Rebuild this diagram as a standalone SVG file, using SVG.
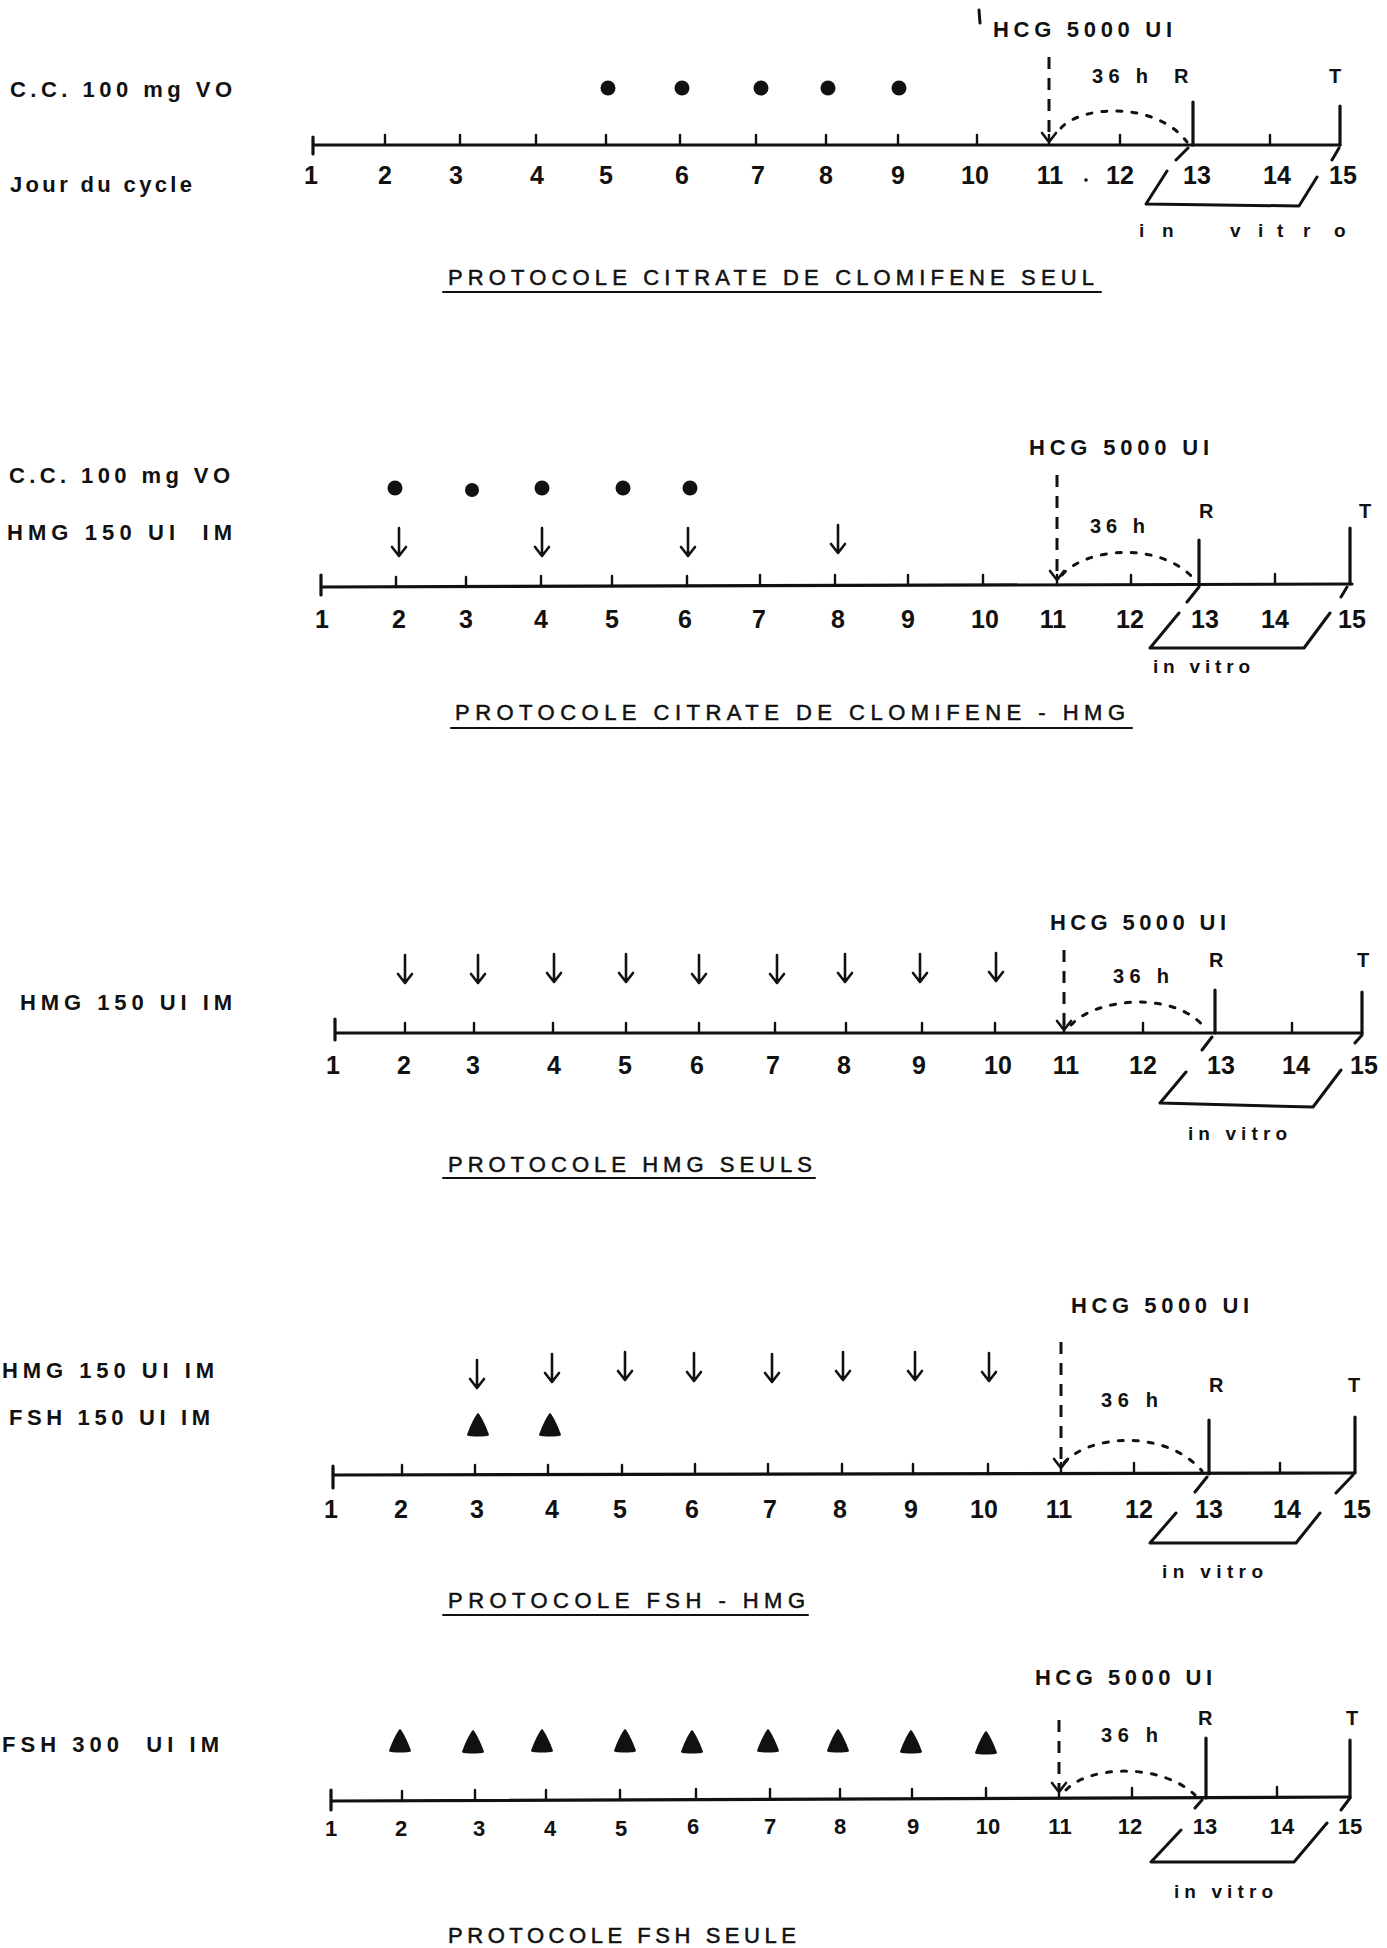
<svg xmlns="http://www.w3.org/2000/svg" xmlns:xlink="http://www.w3.org/1999/xlink" width="1387" height="1948" viewBox="0 0 1387 1948">
<style>
text{font-family:"Liberation Sans",Arial,sans-serif;fill:#111}
.lbl{font-size:22px;font-weight:bold}
.ttl{font-size:22px;font-weight:normal;stroke:#111;stroke-width:0.5}
.hcg{font-size:22px;font-weight:bold}
.sm{font-size:20px;font-weight:bold}
.iv{font-size:19px;font-weight:bold}
.num{font-size:25px;font-weight:bold;text-anchor:middle}
.num5{font-size:22px;font-weight:bold;text-anchor:middle}
.ln{stroke:#111;fill:none;stroke-linecap:round;stroke-linejoin:round}
.axis{stroke-width:3.2}
.tick{stroke-width:2.4}
.bar{stroke-width:3.2}
.ul{stroke-width:2}
.vd{stroke-width:3;stroke-dasharray:12 9;stroke-linecap:butt}
.arc{stroke-width:3;stroke-dasharray:5 10}
.iv-ln{stroke-width:3}
</style>
<defs>
<path id="darr" class="ln" style="stroke-width:2.6" d="M0,-14 V14 M-7,5 L0,14 L7,5"/>
<path id="hd" class="ln" style="stroke-width:2.6" d="M-7,-9 L0,0 L7,-9"/>
<path id="tri" d="M0,-12 C3,-10 10,6 11,10 C11,12 -11,12 -11,10 C-10,6 -3,-10 0,-12 Z" fill="#111"/>
</defs>
<rect width="1387" height="1948" fill="#fff"/>

<!-- Protocol 1 -->
<g id="protocol-cc">
  <text class="lbl" x="10" y="97" textLength="222" lengthAdjust="spacing">C.C. 100 mg VO</text>
  <text class="lbl" x="10" y="192" textLength="182" lengthAdjust="spacing">Jour du cycle</text>
  <g id="p1-axis" class="ln">
    <path class="axis" d="M313,145 H1340 M313,137 V154"/>
    <path class="tick" d="M385,135V145 M460,135V145 M536,135V145 M606,135V145 M680,135V145 M756,135V145 M826,135V145 M898,135V145 M977,135V145 M1049,135V145 M1120,135V145 M1270,135V145"/>
    <path class="bar" d="M1193,102V145 M1340,106V145"/>
  </g>
  <g id="p1-days">
    <text class="num" x="311" y="184">1</text><text class="num" x="385" y="184">2</text><text class="num" x="456" y="184">3</text><text class="num" x="537" y="184">4</text><text class="num" x="606" y="184">5</text><text class="num" x="682" y="184">6</text><text class="num" x="758" y="184">7</text><text class="num" x="826" y="184">8</text><text class="num" x="898" y="184">9</text><text class="num" x="975" y="184">10</text><text class="num" x="1050" y="184">11</text><text class="num" x="1120" y="184">12</text><text class="num" x="1197" y="184">13</text><text class="num" x="1277" y="184">14</text><text class="num" x="1343" y="184">15</text>
    <circle cx="1086" cy="180" r="1.8" fill="#111"/>
  </g>
  <g id="p1-doses" fill="#111">
    <circle cx="608" cy="88" r="7.5"/><circle cx="682" cy="88" r="7.5"/><circle cx="761" cy="88" r="7.5"/><circle cx="828" cy="88" r="7.5"/><circle cx="899" cy="88" r="7.5"/>
  </g>
  <g id="p1-hcg">
    <path class="ln" style="stroke-width:3" d="M979,10 L980,23"/>
    <text class="hcg" x="993" y="37" textLength="179" lengthAdjust="spacing">HCG 5000 UI</text>
    <text class="sm" x="1092" y="83" textLength="56" lengthAdjust="spacing">36 h</text>
    <text class="sm" x="1174" y="83">R</text>
    <text class="sm" x="1329" y="83">T</text>
  </g>
  <g id="p1-invitro">
    <path class="ln iv-ln" d="M1188,148 L1176,160 M1167,171 L1146,204 L1299,206 L1317,177 M1332,160 L1339,148"/>
    <text class="iv" x="1139 1162 1230 1258 1277 1303 1334" y="237">invitro</text>
  </g>
  <text class="ttl" x="448" y="285" textLength="646" lengthAdjust="spacing">PROTOCOLE CITRATE DE CLOMIFENE SEUL</text>
  <path class="ln ul" d="M443,292 H1101"/>
</g>

<!-- Protocol 2 -->
<g id="protocol-cc-hmg">
  <text class="lbl" x="9" y="483" textLength="221" lengthAdjust="spacing">C.C. 100 mg VO</text>
  <text class="lbl" x="7" y="540" textLength="225" lengthAdjust="spacing" xml:space="preserve">HMG 150 UI  IM</text>
  <g id="p2-axis" class="ln">
    <path class="axis" d="M321,587 L1352,584 M321,575 V595"/>
    <path class="tick" d="M396,577V587 M466,577V587 M541,576V586 M612,576V586 M687,576V586 M760,575V585 M835,575V585 M908,575V585 M983,575V585 M1057,575V585 M1131,575V585 M1275,574V584"/>
    <path class="bar" d="M1199,540V585 M1350,528V584"/>
  </g>
  <g id="p2-days">
    <text class="num" x="322" y="628">1</text><text class="num" x="399" y="628">2</text><text class="num" x="466" y="628">3</text><text class="num" x="541" y="628">4</text><text class="num" x="612" y="628">5</text><text class="num" x="685" y="628">6</text><text class="num" x="759" y="628">7</text><text class="num" x="838" y="628">8</text><text class="num" x="908" y="628">9</text><text class="num" x="985" y="628">10</text><text class="num" x="1053" y="628">11</text><text class="num" x="1130" y="628">12</text><text class="num" x="1205" y="628">13</text><text class="num" x="1275" y="628">14</text><text class="num" x="1352" y="628">15</text>
  </g>
  <g id="p2-doses" fill="#111">
    <circle cx="395" cy="488" r="7.5"/><circle cx="472" cy="490" r="7"/><circle cx="542" cy="488" r="7.5"/><circle cx="623" cy="488" r="7.5"/><circle cx="690" cy="488" r="7.5"/>
    <use xlink:href="#darr" x="399" y="542"/><use xlink:href="#darr" x="542" y="542"/><use xlink:href="#darr" x="688" y="542"/><use xlink:href="#darr" x="838" y="539"/>
  </g>
  <g id="p2-hcg">
    <text class="hcg" x="1029" y="455" textLength="180" lengthAdjust="spacing">HCG 5000 UI</text>
    <text class="sm" x="1090" y="533" textLength="55" lengthAdjust="spacing">36 h</text>
    <text class="sm" x="1199" y="518">R</text>
    <text class="sm" x="1359" y="518">T</text>
  </g>
  <g id="p2-invitro">
    <path class="ln iv-ln" d="M1199,587 L1187,602 M1179,613 L1150,648 L1304,648 L1330,613 M1341,597 L1347,587"/>
    <text class="iv" x="1153" y="673" textLength="97" lengthAdjust="spacing">in vitro</text>
  </g>
  <text class="ttl" x="455" y="720" textLength="670" lengthAdjust="spacing">PROTOCOLE CITRATE DE CLOMIFENE - HMG</text>
  <path class="ln ul" d="M451,728 H1132"/>
</g>

<!-- Protocol 3 -->
<g id="protocol-hmg">
  <text class="lbl" x="20" y="1010" textLength="212" lengthAdjust="spacing">HMG 150 UI IM</text>
  <g id="p3-axis" class="ln">
    <path class="axis" d="M335,1033 H1362 M335,1019 V1040"/>
    <path class="tick" d="M405,1023V1033 M474,1023V1033 M553,1023V1033 M626,1023V1033 M699,1023V1033 M775,1023V1033 M846,1023V1033 M922,1023V1033 M995,1023V1033 M1064,1023V1033 M1143,1023V1033 M1292,1023V1033"/>
    <path class="bar" d="M1215,990V1033 M1362,992V1033"/>
  </g>
  <g id="p3-days">
    <text class="num" x="333" y="1074">1</text><text class="num" x="404" y="1074">2</text><text class="num" x="473" y="1074">3</text><text class="num" x="554" y="1074">4</text><text class="num" x="625" y="1074">5</text><text class="num" x="697" y="1074">6</text><text class="num" x="773" y="1074">7</text><text class="num" x="844" y="1074">8</text><text class="num" x="919" y="1074">9</text><text class="num" x="998" y="1074">10</text><text class="num" x="1066" y="1074">11</text><text class="num" x="1143" y="1074">12</text><text class="num" x="1221" y="1074">13</text><text class="num" x="1296" y="1074">14</text><text class="num" x="1364" y="1074">15</text>
  </g>
  <g id="p3-doses">
    <use xlink:href="#darr" x="405" y="969"/><use xlink:href="#darr" x="478" y="969"/><use xlink:href="#darr" x="554" y="968"/><use xlink:href="#darr" x="626" y="968"/><use xlink:href="#darr" x="699" y="969"/><use xlink:href="#darr" x="777" y="969"/><use xlink:href="#darr" x="845" y="968"/><use xlink:href="#darr" x="920" y="968"/><use xlink:href="#darr" x="996" y="967"/>
  </g>
  <g id="p3-hcg">
    <text class="hcg" x="1050" y="930" textLength="176" lengthAdjust="spacing">HCG 5000 UI</text>
    <text class="sm" x="1113" y="983" textLength="56" lengthAdjust="spacing">36 h</text>
    <text class="sm" x="1209" y="967">R</text>
    <text class="sm" x="1357" y="967">T</text>
  </g>
  <g id="p3-invitro">
    <path class="ln iv-ln" d="M1212,1037 L1202,1050 M1186,1072 L1160,1103 L1313,1107 L1341,1070 M1355,1043 L1362,1035"/>
    <text class="iv" x="1188" y="1140" textLength="99" lengthAdjust="spacing">in vitro</text>
  </g>
  <text class="ttl" x="448" y="1172" textLength="364" lengthAdjust="spacing">PROTOCOLE HMG SEULS</text>
  <path class="ln ul" d="M443,1178 H815"/>
</g>

<!-- Protocol 4 -->
<g id="protocol-fsh-hmg">
  <text class="lbl" x="2" y="1378" textLength="212" lengthAdjust="spacing">HMG 150 UI IM</text>
  <text class="lbl" x="9" y="1425" textLength="201" lengthAdjust="spacing">FSH 150 UI IM</text>
  <g id="p4-axis" class="ln">
    <path class="axis" d="M333,1475 L1354,1473 M333,1466 V1488"/>
    <path class="tick" d="M402,1465V1475 M475,1465V1475 M548,1465V1475 M622,1465V1475 M695,1464V1474 M768,1464V1474 M842,1464V1474 M913,1464V1474 M988,1464V1474 M1061,1463V1473 M1134,1463V1473 M1280,1463V1473"/>
    <path class="bar" d="M1209,1420V1474 M1355,1417V1473"/>
  </g>
  <g id="p4-days">
    <text class="num" x="331" y="1518">1</text><text class="num" x="401" y="1518">2</text><text class="num" x="477" y="1518">3</text><text class="num" x="552" y="1518">4</text><text class="num" x="620" y="1518">5</text><text class="num" x="692" y="1518">6</text><text class="num" x="770" y="1518">7</text><text class="num" x="840" y="1518">8</text><text class="num" x="911" y="1518">9</text><text class="num" x="984" y="1518">10</text><text class="num" x="1059" y="1518">11</text><text class="num" x="1139" y="1518">12</text><text class="num" x="1209" y="1518">13</text><text class="num" x="1287" y="1518">14</text><text class="num" x="1357" y="1518">15</text>
  </g>
  <g id="p4-doses">
    <use xlink:href="#darr" x="477" y="1374"/><use xlink:href="#darr" x="552" y="1368"/><use xlink:href="#darr" x="625" y="1366"/><use xlink:href="#darr" x="694" y="1367"/><use xlink:href="#darr" x="772" y="1368"/><use xlink:href="#darr" x="843" y="1366"/><use xlink:href="#darr" x="915" y="1366"/><use xlink:href="#darr" x="989" y="1367"/>
    <use xlink:href="#tri" x="478" y="1425"/><use xlink:href="#tri" x="550" y="1425"/>
  </g>
  <g id="p4-hcg">
    <text class="hcg" x="1071" y="1313" textLength="178" lengthAdjust="spacing">HCG 5000 UI</text>
    <text class="sm" x="1101" y="1407" textLength="57" lengthAdjust="spacing">36 h</text>
    <text class="sm" x="1209" y="1392">R</text>
    <text class="sm" x="1348" y="1392">T</text>
  </g>
  <g id="p4-invitro">
    <path class="ln iv-ln" d="M1207,1477 L1195,1492 M1176,1513 L1150,1543 L1296,1543 L1320,1513 M1336,1493 L1353,1475"/>
    <text class="iv" x="1162" y="1578" textLength="101" lengthAdjust="spacing">in vitro</text>
  </g>
  <text class="ttl" x="448" y="1608" textLength="357" lengthAdjust="spacing">PROTOCOLE FSH - HMG</text>
  <path class="ln ul" d="M443,1615 H808"/>
</g>

<!-- Protocol 5 -->
<g id="protocol-fsh">
  <text class="lbl" x="2" y="1752" textLength="217" lengthAdjust="spacing" xml:space="preserve">FSH 300  UI IM</text>
  <g id="p5-axis" class="ln">
    <path class="axis" d="M331,1801 L1350,1797 M331,1790 V1810"/>
    <path class="tick" d="M402,1791V1801 M475,1790V1800 M546,1790V1800 M620,1790V1800 M696,1789V1799 M770,1789V1799 M840,1789V1799 M912,1789V1799 M986,1788V1798 M1059,1788V1798 M1132,1788V1798 M1277,1787V1797"/>
    <path class="bar" d="M1206,1738V1798 M1350,1740V1797"/>
  </g>
  <g id="p5-days">
    <text class="num5" x="331" y="1836">1</text><text class="num5" x="401" y="1836">2</text><text class="num5" x="479" y="1836">3</text><text class="num5" x="550" y="1836">4</text><text class="num5" x="621" y="1836">5</text><text class="num5" x="693" y="1834">6</text><text class="num5" x="770" y="1834">7</text><text class="num5" x="840" y="1834">8</text><text class="num5" x="913" y="1834">9</text><text class="num5" x="988" y="1834">10</text><text class="num5" x="1060" y="1834">11</text><text class="num5" x="1130" y="1834">12</text><text class="num5" x="1205" y="1834">13</text><text class="num5" x="1282" y="1834">14</text><text class="num5" x="1350" y="1834">15</text>
  </g>
  <g id="p5-doses">
    <use xlink:href="#tri" x="400" y="1741"/><use xlink:href="#tri" x="473" y="1742"/><use xlink:href="#tri" x="542" y="1741"/><use xlink:href="#tri" x="625" y="1741"/><use xlink:href="#tri" x="692" y="1742"/><use xlink:href="#tri" x="768" y="1741"/><use xlink:href="#tri" x="838" y="1741"/><use xlink:href="#tri" x="911" y="1742"/><use xlink:href="#tri" x="986" y="1743"/>
  </g>
  <g id="p5-hcg">
    <text class="hcg" x="1035" y="1685" textLength="177" lengthAdjust="spacing">HCG 5000 UI</text>
    <text class="sm" x="1101" y="1742" textLength="57" lengthAdjust="spacing">36 h</text>
    <text class="sm" x="1198" y="1725">R</text>
    <text class="sm" x="1346" y="1725">T</text>
  </g>
  <g id="p5-invitro">
    <path class="ln iv-ln" d="M1202,1800 L1195,1808 M1181,1830 L1151,1862 L1294,1862 L1327,1823 M1341,1810 L1350,1798"/>
    <text class="iv" x="1174" y="1898" textLength="99" lengthAdjust="spacing">in vitro</text>
  </g>
  <text class="ttl" x="448" y="1943" textLength="348" lengthAdjust="spacing">PROTOCOLE FSH SEULE</text>
</g>

<!-- Connectors: HCG injection arrows and 36 h arcs -->
<g id="connectors">
  <path class="ln vd" d="M1049,57 V138"/><use xlink:href="#hd" x="1049" y="142"/>
  <path class="ln arc" d="M1061,128 C1080,106 1155,100 1187,142"/>
  <path class="ln vd" d="M1057,475 V577"/><use xlink:href="#hd" x="1057" y="580"/>
  <path class="ln arc" d="M1062,575 C1085,548 1160,540 1195,580"/>
  <path class="ln vd" d="M1064,950 V1026"/><use xlink:href="#hd" x="1064" y="1030"/>
  <path class="ln arc" d="M1071,1025 C1095,998 1175,990 1205,1028"/>
  <path class="ln vd" d="M1061,1342 V1464"/><use xlink:href="#hd" x="1061" y="1468"/>
  <path class="ln arc" d="M1064,1463 C1088,1435 1165,1428 1202,1471"/>
  <path class="ln vd" d="M1059,1720 V1788"/><use xlink:href="#hd" x="1059" y="1792"/>
  <path class="ln arc" d="M1066,1790 C1088,1766 1160,1762 1195,1795"/>
</g>
</svg>
